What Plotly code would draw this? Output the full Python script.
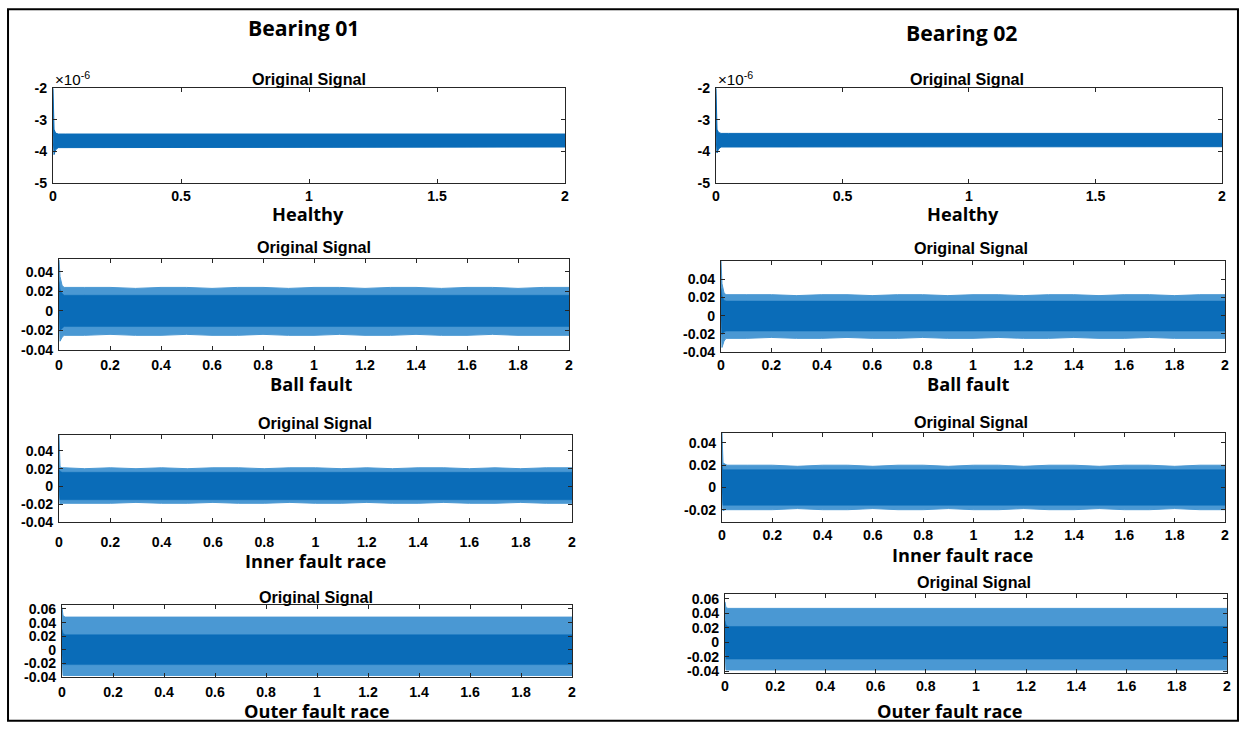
import plotly.graph_objects as go

W, H = 1244, 730
# The photographed picture shows the page slightly reduced, with a thin white
# rim added (about 4 px left/right, 8 px top/bottom). Positions below are given
# in picture pixels and converted back to figure pixels.
SX, OX = 1244 / 1252, 4
SY, OY = 730 / 746, 8

# ---------------- data (envelopes) ----------------
# time grid (s) at which envelopes were read
T_healthy = [0, 0.004, 0.01, 0.02, 0.05, 0.5, 1.0, 1.5, 2.0]
T_fault = [0, 0.004, 0.012, 0.02, 0.1, 0.2, 0.3, 0.4, 0.5, 0.6, 0.7, 0.8,
           0.9, 1.0, 1.1, 1.2, 1.3, 1.4, 1.5, 1.6, 1.7, 1.8, 1.9, 2.0]

# Bearing 01 - Healthy (units of 1e-6)
b1_healthy_hi = [-2.0, -3.30, -3.42, -3.45, -3.45, -3.45, -3.45, -3.45, -3.45]
b1_healthy_lo = [-3.50, -4.10, -3.95, -3.88, -3.86, -3.86, -3.86, -3.86, -3.86]
# Bearing 02 - Healthy (units of 1e-6)
b2_healthy_hi = [-2.0, -3.30, -3.40, -3.43, -3.43, -3.43, -3.43, -3.43, -3.43]
b2_healthy_lo = [-3.50, -4.05, -3.92, -3.86, -3.85, -3.85, -3.85, -3.85, -3.85]

# Bearing 01 - Ball fault
b1_ball_hi = [0.052, 0.035, 0.026, 0.024, 0.024, 0.024, 0.023, 0.024, 0.024, 0.023, 0.024, 0.024,
              0.023, 0.024, 0.024, 0.023, 0.024, 0.024, 0.023, 0.024, 0.024, 0.023, 0.024, 0.024]
b1_ball_lo = [-0.005, -0.031, -0.027, -0.025, -0.025, -0.024, -0.025, -0.025, -0.024, -0.025, -0.025, -0.024,
              -0.025, -0.025, -0.024, -0.025, -0.025, -0.024, -0.025, -0.025, -0.024, -0.025, -0.025, -0.025]
b1_ball_core_hi = [0.030, 0.022, 0.018, 0.016, 0.016, 0.016, 0.016, 0.016, 0.016, 0.016, 0.016, 0.016,
                   0.016, 0.016, 0.016, 0.016, 0.016, 0.016, 0.016, 0.016, 0.016, 0.016, 0.016, 0.016]
b1_ball_core_lo = [-0.004, -0.020, -0.018, -0.016, -0.016, -0.016, -0.016, -0.016, -0.016, -0.016, -0.016, -0.016,
                   -0.016, -0.016, -0.016, -0.016, -0.016, -0.016, -0.016, -0.016, -0.016, -0.016, -0.016, -0.016]

# Bearing 02 - Ball fault
b2_ball_hi = [0.060, 0.035, 0.025, 0.023, 0.023, 0.023, 0.022, 0.023, 0.023, 0.022, 0.023, 0.023,
              0.022, 0.023, 0.023, 0.022, 0.023, 0.023, 0.022, 0.023, 0.023, 0.022, 0.023, 0.023]
b2_ball_lo = [-0.005, -0.035, -0.028, -0.025, -0.025, -0.024, -0.025, -0.025, -0.024, -0.025, -0.025, -0.024,
              -0.025, -0.025, -0.024, -0.025, -0.025, -0.024, -0.025, -0.025, -0.024, -0.025, -0.025, -0.025]
b2_ball_core_hi = [0.030, 0.022, 0.017, 0.016, 0.016, 0.016, 0.016, 0.016, 0.016, 0.016, 0.016, 0.016,
                   0.016, 0.016, 0.016, 0.016, 0.016, 0.016, 0.016, 0.016, 0.016, 0.016, 0.016, 0.016]
b2_ball_core_lo = [-0.004, -0.021, -0.018, -0.017, -0.017, -0.017, -0.017, -0.017, -0.017, -0.017, -0.017, -0.017,
                   -0.017, -0.017, -0.017, -0.017, -0.017, -0.017, -0.017, -0.017, -0.017, -0.017, -0.017, -0.017]

# Bearing 01 - Inner race fault
b1_inner_hi = [0.058, 0.022, 0.021, 0.021, 0.020, 0.021, 0.020, 0.021, 0.020, 0.021, 0.021, 0.020,
               0.021, 0.021, 0.020, 0.021, 0.020, 0.021, 0.021, 0.020, 0.021, 0.020, 0.021, 0.021]
b1_inner_lo = [-0.005, -0.020, -0.019, -0.019, -0.019, -0.019, -0.018, -0.019, -0.019, -0.018, -0.019, -0.019,
               -0.018, -0.019, -0.019, -0.018, -0.019, -0.019, -0.018, -0.019, -0.019, -0.018, -0.019, -0.019]
b1_inner_core_hi = [0.020, 0.017, 0.016, 0.016, 0.016, 0.016, 0.016, 0.016, 0.016, 0.016, 0.016, 0.016,
                    0.016, 0.016, 0.016, 0.016, 0.016, 0.016, 0.016, 0.016, 0.016, 0.016, 0.016, 0.016]
b1_inner_core_lo = [-0.004, -0.015, -0.015, -0.015, -0.015, -0.015, -0.015, -0.015, -0.015, -0.015, -0.015, -0.015,
                    -0.015, -0.015, -0.015, -0.015, -0.015, -0.015, -0.015, -0.015, -0.015, -0.015, -0.015, -0.015]

# Bearing 02 - Inner race fault
b2_inner_hi = [0.049, 0.022, 0.021, 0.020, 0.020, 0.020, 0.019, 0.020, 0.020, 0.019, 0.020, 0.020,
               0.019, 0.020, 0.020, 0.019, 0.020, 0.020, 0.019, 0.020, 0.020, 0.019, 0.020, 0.020]
b2_inner_lo = [-0.005, -0.021, -0.020, -0.020, -0.020, -0.020, -0.019, -0.020, -0.020, -0.019, -0.020, -0.020,
               -0.019, -0.020, -0.020, -0.019, -0.020, -0.020, -0.019, -0.020, -0.020, -0.019, -0.020, -0.020]
b2_inner_core_hi = [0.020, 0.016, 0.016, 0.016, 0.016, 0.016, 0.016, 0.016, 0.016, 0.016, 0.016, 0.016,
                    0.016, 0.016, 0.016, 0.016, 0.016, 0.016, 0.016, 0.016, 0.016, 0.016, 0.016, 0.016]
b2_inner_core_lo = [-0.004, -0.016, -0.016, -0.016, -0.016, -0.016, -0.016, -0.016, -0.016, -0.016, -0.016, -0.016,
                    -0.016, -0.016, -0.016, -0.016, -0.016, -0.016, -0.016, -0.016, -0.016, -0.016, -0.016, -0.016]

# Bearing 01 - Outer race fault
b1_outer_hi = [0.062, 0.050, 0.048, 0.048, 0.048, 0.048, 0.047, 0.048, 0.048, 0.047, 0.048, 0.048,
               0.047, 0.048, 0.048, 0.047, 0.048, 0.048, 0.047, 0.048, 0.048, 0.047, 0.048, 0.048]
b1_outer_lo = [-0.010, -0.038, -0.038, -0.038, -0.038, -0.038, -0.037, -0.038, -0.038, -0.037, -0.038, -0.038,
               -0.037, -0.038, -0.038, -0.037, -0.038, -0.038, -0.037, -0.038, -0.038, -0.037, -0.038, -0.038]
b1_outer_core_hi = [0.030, 0.024, 0.022, 0.022, 0.022, 0.022, 0.022, 0.022, 0.022, 0.022, 0.022, 0.022,
                    0.022, 0.022, 0.022, 0.022, 0.022, 0.022, 0.022, 0.022, 0.022, 0.022, 0.022, 0.022]
b1_outer_core_lo = [-0.008, -0.022, -0.022, -0.022, -0.022, -0.022, -0.022, -0.022, -0.022, -0.022, -0.022, -0.022,
                    -0.022, -0.022, -0.022, -0.022, -0.022, -0.022, -0.022, -0.022, -0.022, -0.022, -0.022, -0.022]

# Bearing 02 - Outer race fault
b2_outer_hi = [0.056, 0.048, 0.047, 0.047, 0.047, 0.047, 0.046, 0.047, 0.047, 0.046, 0.047, 0.047,
               0.046, 0.047, 0.047, 0.046, 0.047, 0.047, 0.046, 0.047, 0.047, 0.046, 0.047, 0.047]
b2_outer_lo = [-0.010, -0.038, -0.038, -0.038, -0.038, -0.038, -0.037, -0.038, -0.038, -0.037, -0.038, -0.038,
               -0.037, -0.038, -0.038, -0.037, -0.038, -0.038, -0.037, -0.038, -0.038, -0.037, -0.038, -0.038]
b2_outer_core_hi = [0.030, 0.024, 0.022, 0.022, 0.022, 0.022, 0.022, 0.022, 0.022, 0.022, 0.022, 0.022,
                    0.022, 0.022, 0.022, 0.022, 0.022, 0.022, 0.022, 0.022, 0.022, 0.022, 0.022, 0.022]
b2_outer_core_lo = [-0.008, -0.023, -0.023, -0.023, -0.023, -0.023, -0.023, -0.023, -0.023, -0.023, -0.023, -0.023,
                    -0.023, -0.023, -0.023, -0.023, -0.023, -0.023, -0.023, -0.023, -0.023, -0.023, -0.023, -0.023]

# tick values / labels
healthy_xticks = [0, 0.5, 1, 1.5, 2]
healthy_xtext = ["0", "0.5", "1", "1.5", "2"]
fault_xticks = [0, 0.2, 0.4, 0.6, 0.8, 1, 1.2, 1.4, 1.6, 1.8, 2]
fault_xtext = ["0", "0.2", "0.4", "0.6", "0.8", "1", "1.2", "1.4", "1.6", "1.8", "2"]
healthy_yticks = [-5, -4, -3, -2]
healthy_ytext = ["-5", "-4", "-3", "-2"]
y4_ticks = [-0.04, -0.02, 0, 0.02, 0.04]
y4_text = ["-0.04", "-0.02", "0", "0.02", "0.04"]
y3_ticks = [-0.02, 0, 0.02, 0.04]
y3_text = ["-0.02", "0", "0.02", "0.04"]
y6_ticks = [-0.04, -0.02, 0, 0.02, 0.04, 0.06]
y6_text = ["-0.04", "-0.02", "0", "0.02", "0.04", "0.06"]

panel_titles = ["Original Signal"] * 8
condition_labels = ["Healthy", "Ball fault", "Inner fault race", "Outer fault race"]
bearing_titles = ["Bearing 01", "Bearing 02"]

# ---------------- layout geometry (picture pixels) ----------------
# (x0, x1, ytop, ybot, yrange, xticks, xtext, yticks, ytext, x-label standoff, data...)
panels = [
    (53, 565, 88, 183, [-5, -2], healthy_xticks, healthy_xtext, healthy_yticks, healthy_ytext, 0,
     T_healthy, b1_healthy_hi, b1_healthy_lo, None, None),
    (59, 569, 259, 350, [-0.04, 0.053], fault_xticks, fault_xtext, y4_ticks, y4_text, 2,
     T_fault, b1_ball_hi, b1_ball_lo, b1_ball_core_hi, b1_ball_core_lo),
    (59, 572, 435, 522, [-0.04, 0.058], fault_xticks, fault_xtext, y4_ticks, y4_text, 7,
     T_fault, b1_inner_hi, b1_inner_lo, b1_inner_core_hi, b1_inner_core_lo),
    (62, 572, 605, 677, [-0.04, 0.066], fault_xticks, fault_xtext, y6_ticks, y6_text, 2,
     T_fault, b1_outer_hi, b1_outer_lo, b1_outer_core_hi, b1_outer_core_lo),
    (716, 1222, 88, 183, [-5, -2], healthy_xticks, healthy_xtext, healthy_yticks, healthy_ytext, 0,
     T_healthy, b2_healthy_hi, b2_healthy_lo, None, None),
    (721, 1225, 261, 352, [-0.04, 0.06], fault_xticks, fault_xtext, y4_ticks, y4_text, 0,
     T_fault, b2_ball_hi, b2_ball_lo, b2_ball_core_hi, b2_ball_core_lo),
    (722, 1225, 433, 522, [-0.031, 0.049], fault_xticks, fault_xtext, y3_ticks, y3_text, 0,
     T_fault, b2_inner_hi, b2_inner_lo, b2_inner_core_hi, b2_inner_core_lo),
    (725, 1227, 594, 673, [-0.042, 0.067], fault_xticks, fault_xtext, y6_ticks, y6_text, 0,
     T_fault, b2_outer_hi, b2_outer_lo, b2_outer_core_hi, b2_outer_core_lo),
]

title_pos = [(309, 79), (314, 247), (315, 423), (316, 597),
             (967, 79), (971, 248), (971, 422), (974, 582)]
label_pos = [(308, 214), (311, 384), (315, 561), (317, 711),
             (963, 214), (969, 384), (963, 555), (950, 711)]
bearing_pos = [(303, 27), (962, 32)]

LIGHT = "#4a98d3"
DARK = "#0a6cb8"
AXIS = "#262626"
FS = 1 / SY ** 0.5  # small font compensation for the reduction
TICKFONT = dict(family="Liberation Sans, Arial", size=14 * FS, color="black", weight="bold")

fig = go.Figure()
layout = dict(
    autosize=True, margin=dict(l=0, r=0, t=0, b=0),
    paper_bgcolor="white", plot_bgcolor="white", showlegend=False,
)

def px(x):
    return min(max((x / SX - OX) / W, 0.0), 1.0)

def py(y):
    return min(max(1 - (y / SY - OY) / H, 0.0), 1.0)

for i, (x0, x1, yt, yb, yr, xtv, xtt, ytv, ytt, xso, t, hi, lo, chi, clo) in enumerate(panels):
    n = i + 1
    xa = "x" if n == 1 else f"x{n}"
    ya = "y" if n == 1 else f"y{n}"
    # outer (spike) envelope
    fig.add_trace(go.Scatter(
        x=list(t) + list(t)[::-1], y=list(hi) + list(lo)[::-1],
        fill="toself", fillcolor=LIGHT if chi is not None else DARK,
        line=dict(color=LIGHT if chi is not None else DARK, width=1),
        mode="lines", xaxis=xa, yaxis=ya, hoverinfo="skip"))
    if chi is not None:
        fig.add_trace(go.Scatter(
            x=list(t) + list(t)[::-1], y=list(chi) + list(clo)[::-1],
            fill="toself", fillcolor=DARK, line=dict(color=DARK, width=0.5),
            mode="lines", xaxis=xa, yaxis=ya, hoverinfo="skip"))
    axcommon = dict(showline=True, linecolor=AXIS, linewidth=1, mirror="ticks",
                    ticks="inside", ticklen=4, tickcolor=AXIS, showgrid=False,
                    zeroline=False, tickfont=TICKFONT)
    layout["xaxis" if n == 1 else f"xaxis{n}"] = dict(
        domain=[px(x0), px(x1)], range=[0, 2], anchor=ya,
        tickvals=xtv, ticktext=xtt, ticklabelstandoff=xso, **axcommon)
    layout["yaxis" if n == 1 else f"yaxis{n}"] = dict(
        domain=[py(yb), py(yt)], range=yr, anchor=xa,
        tickvals=ytv, ticktext=ytt, ticklabelstandoff=2, **axcommon)

annotations = []
for (x, y), txt in zip(title_pos, panel_titles):
    annotations.append(dict(x=px(x), y=py(y), xref="paper", yref="paper", text=txt,
                            showarrow=False, xanchor="center", yanchor="middle",
                            font=dict(family="Liberation Sans, Arial", size=16 * FS,
                                      color="black", weight="bold")))
for k, (x, y) in enumerate(label_pos):
    annotations.append(dict(x=px(x), y=py(y), xref="paper", yref="paper",
                            text=condition_labels[k % 4], showarrow=False,
                            xanchor="center", yanchor="middle",
                            font=dict(family="Open Sans, Noto Sans", size=18 * FS,
                                      color="black", weight="bold")))
for (x, y), txt in zip(bearing_pos, bearing_titles):
    annotations.append(dict(x=px(x), y=py(y), xref="paper", yref="paper", text=txt,
                            showarrow=False, xanchor="center", yanchor="middle",
                            font=dict(family="Open Sans, Noto Sans", size=21 * FS,
                                      color="black", weight="bold")))
for x in (53, 716):
    annotations.append(dict(x=px(x), y=py(78), xref="paper", yref="paper",
                            text="×10<sup>-6</sup>", showarrow=False,
                            xanchor="left", yanchor="middle",
                            font=dict(family="Liberation Sans, Arial", size=15 * FS, color="black")))
layout["annotations"] = annotations
layout["shapes"] = [dict(type="rect", xref="paper", yref="paper",
                         x0=px(8), x1=px(1238), y0=max(py(729), 1.2 / H), y1=min(py(3), 1 - 1.2 / H),
                         line=dict(color="black", width=2))]

fig.update_layout(**layout)
# pin the plot div to the top-left corner of the window so that page margins do not shift it
fig.write_html("out.html", config={"displayModeBar": False},
               default_width="1244px",
               default_height="730px; position:fixed; top:0; left:0")
